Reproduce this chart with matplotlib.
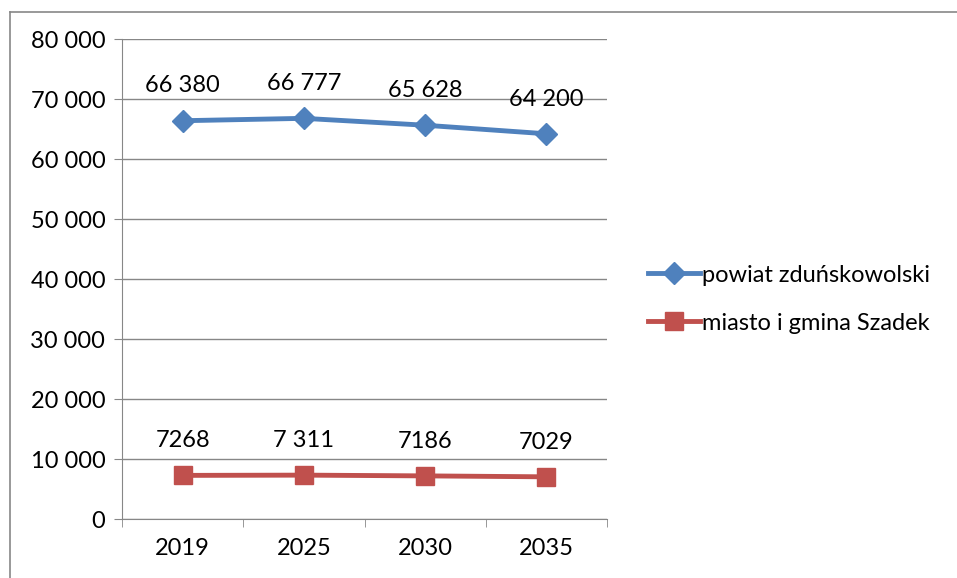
import matplotlib.pyplot as plt
from matplotlib.lines import Line2D
from matplotlib.ticker import FuncFormatter

years = ["2019", "2025", "2030", "2035"]
powiat = [66380, 66777, 65628, 64200]
szadek = [7268, 7311, 7186, 7029]
powiat_labels = ["66 380", "66 777", "65 628", "64 200"]
szadek_labels = ["7268", "7 311", "7186", "7029"]

plt.rcParams["font.family"] = ["Lato", "DejaVu Sans"]
fs = 17

fig = plt.figure(figsize=(9.57, 5.78), dpi=100)
ax = fig.add_axes([122 / 957, 1 - 519 / 578, 485 / 957, 480 / 578])

x = list(range(1, len(years) + 1))
blue = "#4F81BD"
red = "#C0504D"
ax.plot(x, powiat, color=blue, lw=3.5, marker="D", ms=11, label="powiat zduńskowolski")
ax.plot(x, szadek, color=red, lw=3.5, marker="s", ms=13, label="miasto i gmina Szadek")

for xi, v, t in zip(x, powiat, powiat_labels):
    ax.annotate(t, (xi, v), xytext=(0, 25), textcoords="offset points",
                ha="center", va="center", fontsize=fs)
for xi, v, t in zip(x, szadek, szadek_labels):
    ax.annotate(t, (xi, v), xytext=(0, 25), textcoords="offset points",
                ha="center", va="center", fontsize=fs)

ax.set_xlim(0.5, 4.5)
ax.set_ylim(0, 80000)
ax.set_yticks(range(0, 80001, 10000))
ax.yaxis.set_major_formatter(FuncFormatter(lambda v, p: f"{int(v):,}".replace(",", " ")))
ax.set_xticks(x)
ax.set_xticklabels(years)
ax.set_xticks([0.5, 1.5, 2.5, 3.5, 4.5], minor=True)
ax.tick_params(axis="x", which="major", length=0, pad=14, labelsize=fs)
ax.tick_params(axis="x", which="minor", length=6, color="#878787")
ax.tick_params(axis="y", length=6, color="#878787", labelsize=fs, pad=6)
ax.grid(axis="y", color="#878787", lw=1)
ax.set_axisbelow(True)
for s in ["top", "right"]:
    ax.spines[s].set_visible(False)
for s in ["left", "bottom"]:
    ax.spines[s].set_color("#878787")

ax.legend(loc="center left", bbox_to_anchor=(1.04, 0.458), frameon=False,
          fontsize=fs, handlelength=2.2, handletextpad=0.1, labelspacing=1.15)

# chart area border (cut by the image edge)
fig.add_artist(Line2D([10 / 957, 10 / 957], [0, 1 - 12 / 578], color="#878787", lw=1.2))
fig.add_artist(Line2D([10 / 957, 1], [1 - 12 / 578, 1 - 12 / 578], color="#878787", lw=1.2))

fig.savefig("out.png", dpi=100)
